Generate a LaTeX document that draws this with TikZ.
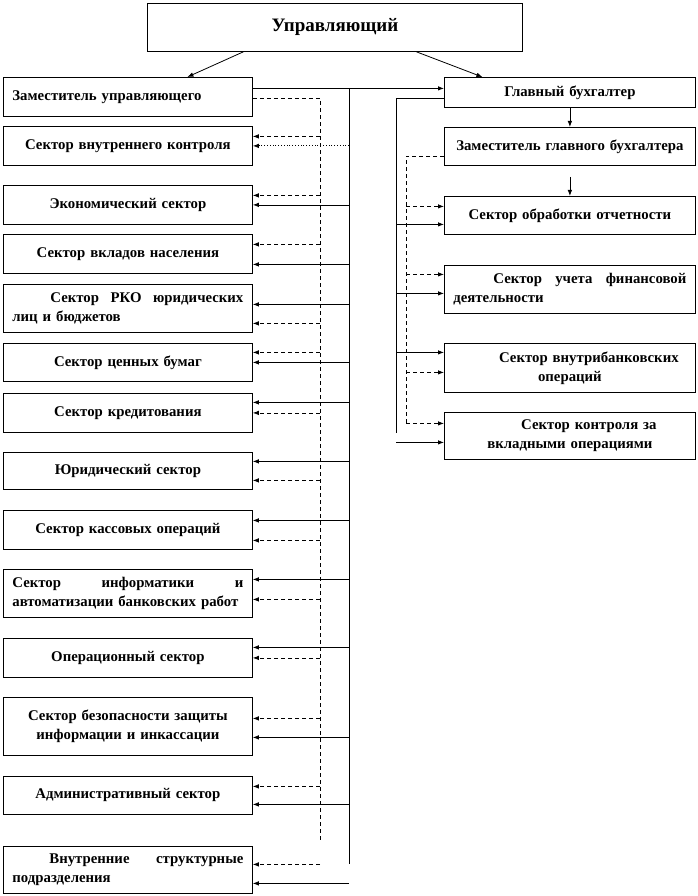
\documentclass[tikz,border=0pt]{standalone}
\usepackage{fontspec}
\setmainfont{Liberation Serif}
\usepackage{tikz}
\usetikzlibrary{arrows.meta, calc}
\newcommand{\unitfont}{\fontsize{14.8}{19}\selectfont\bfseries}
\newcommand{\headfont}{\fontsize{19}{22}\selectfont\bfseries}
\tikzstyle{unit} = [rectangle, draw=black, anchor=north west, inner xsep=9pt,
inner ysep=2pt, text width=231pt, align=center, font=\unitfont]
\tikzstyle{runit} = [unit, text width=233pt]
\tikzstyle{head} = [rectangle, draw=black, anchor=north west, minimum width=375pt,
minimum height=48pt, font=\headfont]
\tikzstyle{arrow} = [->, >={Latex[length=6pt, width=4.5pt]}]
\tikzstyle{darrow} = [arrow, dash pattern=on 4pt off 3pt]
\tikzstyle{line} = [-]
\tikzstyle{dline} = [-, dash pattern=on 4pt off 3pt]

\begin{document}
\begin{tikzpicture}[x=1pt, y=-1pt, line width=0.8pt]

      \useasboundingbox (0,0) rectangle (697,896);

      \node (UP) [head] at (147,3) {Управляющий};

      % left column
      \node (ZU) [unit, minimum height=39pt, align=left] at (3,77) {Заместитель управляющего};
      \node (VK) [unit, minimum height=39pt] at (3,126) {Сектор внутреннего контроля};
      \node (EK) [unit, minimum height=39pt] at (3,185) {Экономический сектор};
      \node (VN) [unit, minimum height=39pt] at (3,234) {Сектор вкладов населения};
      \node (RKO) [unit, minimum height=48pt, align=left] at (3,284)
            {\hspace*{38pt}Сектор\hfill РКО\hfill юридических\\лиц и бюджетов};
      \node (CB) [unit, minimum height=38pt] at (3,343) {Сектор ценных бумаг};
      \node (KR) [unit, minimum height=39pt] at (3,393) {Сектор кредитования};
      \node (YU) [unit, minimum height=37pt] at (3,452) {Юридический сектор};
      \node (KO) [unit, minimum height=39pt] at (3,510) {Сектор кассовых операций};
      \node (INF) [unit, minimum height=48pt, align=left] at (3,569)
            {Сектор\hfill информатики\hfill и\\автоматизации банковских работ};
      \node (OP) [unit, minimum height=39pt] at (3,638) {Операционный сектор};
      \node (BZ) [unit, minimum height=58pt] at (3,697)
            {Сектор безопасности защиты\\информации и инкассации};
      \node (AD) [unit, minimum height=38pt] at (3,776) {Административный сектор};
      \node (VS) [unit, minimum height=47pt, align=left] at (3,846)
            {\hspace*{37pt}Внутренние\hfill структурные\\подразделения};

      % right column
      \node (GB) [runit, minimum height=30pt] at (444,77) {Главный бухгалтер};
      \node (ZG) [runit, minimum height=38pt] at (444,127) {Заместитель главного бухгалтера};
      \node (OT) [runit, minimum height=38pt] at (444,196) {Сектор обработки отчетности};
      \node (UF) [runit, minimum height=48pt, align=left] at (444,265)
            {\hspace*{40pt}Сектор\hfill учета\hfill финансовой\\деятельности};
      \node (VB) [runit, minimum height=49pt] at (444,343)
            {\hspace*{38pt}Сектор внутрибанковских\\операций};
      \node (KV) [runit, minimum height=47pt] at (444,412)
            {\hspace*{38pt}Сектор контроля за\\вкладными операциями};

      \coordinate (SB) at (349,88);
      \coordinate (SBend) at (349,864);
      \coordinate (DB) at (320,98);
      \coordinate (DBend) at (320,843);
      \coordinate (RB) at (396,98);
      \coordinate (RBend) at (396,433);
      \coordinate (RD) at (406,156);
      \coordinate (RDend) at (406,423);

      \draw [arrow] ([xshift=-91.5pt]UP.south) -- ([xshift=59.5pt]ZU.north);
      \draw [arrow] ([xshift=81.5pt]UP.south) -- ([xshift=-87.5pt]GB.north);

      \draw [arrow] ([yshift=8.5pt]ZU.east) -- ([yshift=8.5pt]ZU.east -| GB.west);
      \draw [line] (SB) -- (SBend);
      \draw [dline] ([yshift=-1.5pt]ZU.east) -| (DBend);

      % left column arrows
      \draw [darrow] ([yshift=9.5pt]VK.east -| DB) -- ([yshift=9.5pt]VK.east);
      \draw [arrow, dotted] (VK.east -| SB) -- (VK.east);
      \draw [darrow] ([yshift=9.5pt]EK.east -| DB) -- ([yshift=9.5pt]EK.east);
      \draw [arrow] (EK.east -| SB) -- (EK.east);
      \draw [darrow] ([yshift=9.5pt]VN.east -| DB) -- ([yshift=9.5pt]VN.east);
      \draw [arrow] ([yshift=-10.5pt]VN.east -| SB) -- ([yshift=-10.5pt]VN.east);
      \draw [arrow] ([yshift=4pt]RKO.east -| SB) -- ([yshift=4pt]RKO.east);
      \draw [darrow] ([yshift=-15pt]RKO.east -| DB) -- ([yshift=-15pt]RKO.east);
      \draw [darrow] ([yshift=10pt]CB.east -| DB) -- ([yshift=10pt]CB.east);
      \draw [arrow] (CB.east -| SB) -- (CB.east);
      \draw [arrow] ([yshift=10.5pt]KR.east -| SB) -- ([yshift=10.5pt]KR.east);
      \draw [darrow] (KR.east -| DB) -- (KR.east);
      \draw [arrow] ([yshift=9.5pt]YU.east -| SB) -- ([yshift=9.5pt]YU.east);
      \draw [darrow] ([yshift=-9.5pt]YU.east -| DB) -- ([yshift=-9.5pt]YU.east);
      \draw [arrow] ([yshift=9.5pt]KO.east -| SB) -- ([yshift=9.5pt]KO.east);
      \draw [darrow] ([yshift=-10.5pt]KO.east -| DB) -- ([yshift=-10.5pt]KO.east);
      \draw [arrow] ([yshift=14pt]INF.east -| SB) -- ([yshift=14pt]INF.east);
      \draw [darrow] ([yshift=-6pt]INF.east -| DB) -- ([yshift=-6pt]INF.east);
      \draw [arrow] ([yshift=10.5pt]OP.east -| SB) -- ([yshift=10.5pt]OP.east);
      \draw [darrow] (OP.east -| DB) -- (OP.east);
      \draw [darrow] ([yshift=8pt]BZ.east -| DB) -- ([yshift=8pt]BZ.east);
      \draw [arrow] ([yshift=-11pt]BZ.east -| SB) -- ([yshift=-11pt]BZ.east);
      \draw [darrow] ([yshift=9pt]AD.east -| DB) -- ([yshift=9pt]AD.east);
      \draw [arrow] ([yshift=-9pt]AD.east -| SB) -- ([yshift=-9pt]AD.east);
      \draw [darrow] ([yshift=5.5pt]VS.east -| DB) -- ([yshift=5.5pt]VS.east);
      \draw [arrow] ([yshift=-13.5pt]VS.east -| SB) -- ([yshift=-13.5pt]VS.east);

      % right column arrows
      \draw [arrow] (GB.south) -- (ZG.north);
      \draw [arrow] ([yshift=-11pt]ZG.south) -- (OT.north);
      \draw [line] ([yshift=-6pt]GB.west) -| (RBend);
      \draw [dline] ([yshift=-10pt]ZG.west) -| (RDend);

      \draw [darrow] ([yshift=9pt]OT.west -| RD) -- ([yshift=9pt]OT.west);
      \draw [arrow] ([yshift=-9pt]OT.west -| RB) -- ([yshift=-9pt]OT.west);
      \draw [darrow] ([yshift=15pt]UF.west -| RD) -- ([yshift=15pt]UF.west);
      \draw [arrow] ([yshift=-4pt]UF.west -| RB) -- ([yshift=-4pt]UF.west);
      \draw [arrow] ([yshift=15.5pt]VB.west -| RB) -- ([yshift=15.5pt]VB.west);
      \draw [darrow] ([yshift=-4.5pt]VB.west -| RD) -- ([yshift=-4.5pt]VB.west);
      \draw [darrow] ([yshift=12.5pt]KV.west -| RD) -- ([yshift=12.5pt]KV.west);
      \draw [arrow] ([yshift=-6.5pt]KV.west -| RB) -- ([yshift=-6.5pt]KV.west);

\end{tikzpicture}
\end{document}
